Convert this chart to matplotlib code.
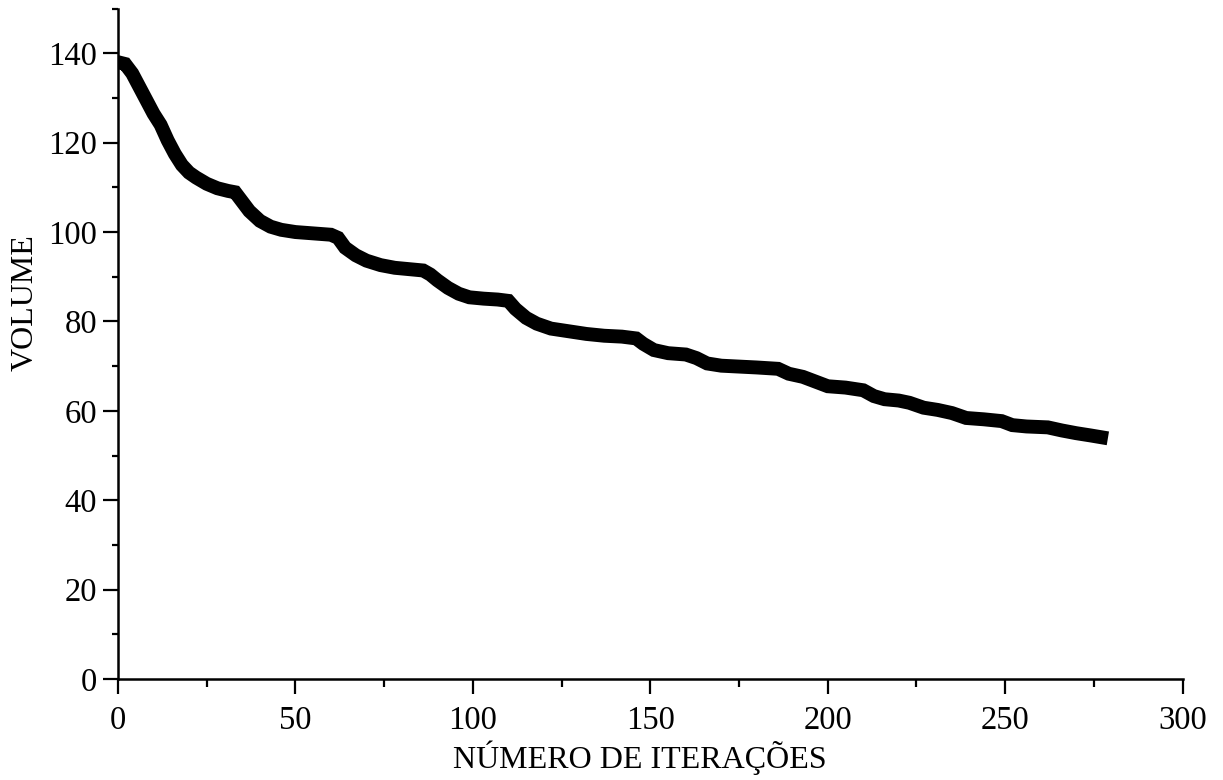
import matplotlib.pyplot as plt
from matplotlib.ticker import MultipleLocator

# values (iteration, volume)
iteracoes = [0, 2, 4, 6, 8, 10, 12, 14, 16, 18, 20, 22, 25, 28, 31, 33, 35, 37,
             40, 43, 46, 50, 55, 60, 62, 64, 67, 70, 74, 78, 82, 86, 88, 90, 93,
             96, 99, 103, 107, 110, 112, 115, 118, 122, 127, 132, 137, 142, 146,
             148, 151, 155, 160, 163, 166, 170, 175, 180, 186, 189, 193, 197,
             200, 205, 210, 213, 216, 220, 223, 227, 231, 235, 239, 244, 249,
             252, 256, 262, 266, 270, 274, 277]
volume = [138, 137.6, 135.5, 132.5, 129.5, 126.5, 124, 120.5, 117.5, 115, 113.3,
          112.2, 110.8, 109.8, 109.2, 108.9, 106.8, 104.7, 102.5, 101.2, 100.5,
          100, 99.7, 99.4, 98.7, 96.5, 94.8, 93.6, 92.6, 92, 91.7, 91.4, 90.5,
          89.2, 87.5, 86.2, 85.4, 85.1, 84.9, 84.6, 82.8, 80.8, 79.5, 78.4, 77.8,
          77.2, 76.8, 76.6, 76.2, 75, 73.6, 72.9, 72.6, 71.8, 70.6, 70.1, 69.9,
          69.7, 69.4, 68.3, 67.6, 66.4, 65.5, 65.2, 64.6, 63.3, 62.6, 62.3, 61.8,
          60.7, 60.2, 59.5, 58.4, 58.1, 57.7, 56.8, 56.5, 56.3, 55.6, 55.0, 54.5,
          54.1]

plt.rcParams['font.family'] = ['Liberation Serif', 'DejaVu Serif']

fig = plt.figure(figsize=(12.23, 7.8), dpi=100)
ax = fig.add_axes([0.0965, 0.1295, 0.8705, 0.8595])

# thick square-capped line imitates the dense square markers of the original
ax.plot(iteracoes, volume, color='black', lw=10,
        solid_joinstyle='miter', solid_capstyle='projecting')

ax.set_xlim(0, 300)
ax.set_ylim(0, 150)
ax.xaxis.set_major_locator(MultipleLocator(50))
ax.xaxis.set_minor_locator(MultipleLocator(25))
ax.yaxis.set_major_locator(MultipleLocator(20))
ax.yaxis.set_minor_locator(MultipleLocator(10))

for s in ['top', 'right']:
    ax.spines[s].set_visible(False)
for s in ['left', 'bottom']:
    ax.spines[s].set_linewidth(1.8)

ax.tick_params(axis='both', which='major', direction='out', length=11,
               width=1.6, labelsize=23.5)
ax.tick_params(axis='x', which='major', pad=8)
ax.tick_params(axis='y', which='major', pad=4)
ax.tick_params(axis='x', which='minor', direction='out', length=6, width=1.6)
ax.tick_params(axis='y', which='minor', direction='out', length=4, width=1.6)

ax.set_xlabel('NÚMERO DE ITERAÇÕES', fontsize=23)
ax.set_ylabel('VOLUME', fontsize=23)
ax.yaxis.set_label_coords(-0.074, 0.562)
ax.xaxis.set_label_coords(0.4905, -0.092)

fig.savefig('out.png', dpi=100)
